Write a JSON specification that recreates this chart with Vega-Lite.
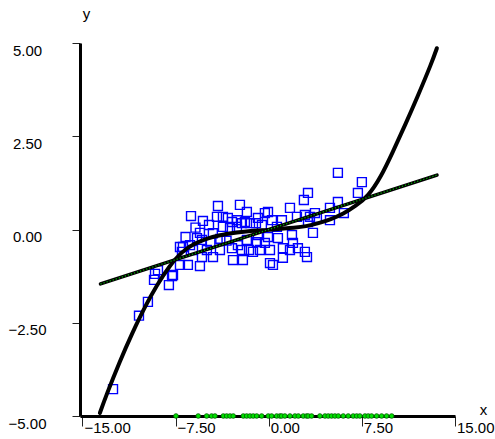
{
  "$schema": "https://vega.github.io/schema/vega-lite/v6.json",
  "width": 375,
  "height": 373,
  "autosize": "none",
  "padding": {"left": 80, "top": 43, "right": 40, "bottom": 23},
  "background": "white",
  "config": {"view": {"stroke": null}},
  "datasets": {
    "train": [
      {"x": -12.54, "y": -4.28}, {"x": -10.45, "y": -2.31}, {"x": -9.73, "y": -1.94}, {"x": -9.16, "y": -1.19},
      {"x": -8.92, "y": -1.09}, {"x": -9.24, "y": -1.35}, {"x": -8.04, "y": -1.49}, {"x": -7.79, "y": -1.25},
      {"x": -7.15, "y": -0.47}, {"x": -7.15, "y": -0.95}, {"x": -4.09, "y": 0.63}, {"x": -2.32, "y": 0.66},
      {"x": -1.76, "y": 0.47}, {"x": -6.26, "y": 0.36}, {"x": -5.30, "y": 0.23}, {"x": -4.81, "y": 0.12},
      {"x": -4.17, "y": 0.34}, {"x": -3.69, "y": 0.34}, {"x": -3.29, "y": 0.31}, {"x": -2.96, "y": 0.20},
      {"x": -2.56, "y": 0.25}, {"x": -2.16, "y": 0.17}, {"x": -1.92, "y": 0.20}, {"x": -1.51, "y": 0.17},
      {"x": -1.03, "y": 0.17}, {"x": -3.69, "y": 0.07}, {"x": -3.12, "y": 0.04}, {"x": -2.56, "y": 0.07},
      {"x": -5.54, "y": -0.09}, {"x": -5.78, "y": -0.23}, {"x": -6.34, "y": -0.42}, {"x": -5.38, "y": -0.28},
      {"x": -6.91, "y": -0.47}, {"x": -6.99, "y": -0.60}, {"x": -6.10, "y": -0.55}, {"x": -4.98, "y": -0.55},
      {"x": -3.93, "y": -0.55}, {"x": -2.96, "y": -0.50}, {"x": -2.48, "y": -0.42}, {"x": -2.16, "y": -0.55},
      {"x": -1.59, "y": -0.55}, {"x": -0.95, "y": -0.34}, {"x": -1.76, "y": -0.28}, {"x": -5.38, "y": -0.74},
      {"x": -6.51, "y": -0.95}, {"x": -5.54, "y": -0.98}, {"x": -1.27, "y": -0.60}, {"x": -2.88, "y": -0.82},
      {"x": -4.49, "y": -0.74}, {"x": -7.71, "y": -1.22}, {"x": 3.16, "y": 0.98}, {"x": 2.83, "y": 0.79},
      {"x": 1.71, "y": 0.58}, {"x": -0.06, "y": 0.47}, {"x": -0.31, "y": 0.44}, {"x": 2.27, "y": 0.34},
      {"x": 2.91, "y": 0.39}, {"x": 3.32, "y": 0.34}, {"x": -0.87, "y": 0.31}, {"x": 0.26, "y": 0.25},
      {"x": 1.06, "y": 0.25}, {"x": -0.55, "y": 0.12}, {"x": 0.66, "y": 0.07}, {"x": 5.57, "y": 0.74},
      {"x": 4.93, "y": 0.58}, {"x": 3.88, "y": 0.31}, {"x": 3.56, "y": -0.09}, {"x": 1.87, "y": -0.15},
      {"x": -0.87, "y": -0.15}, {"x": -0.06, "y": -0.20}, {"x": -0.31, "y": -0.36}, {"x": 0.74, "y": -0.23},
      {"x": -0.71, "y": -0.55}, {"x": 0.10, "y": -0.55}, {"x": 1.14, "y": -0.50}, {"x": 1.95, "y": -0.36},
      {"x": 1.71, "y": -0.55}, {"x": 2.35, "y": -0.50}, {"x": 2.91, "y": -0.60}, {"x": 3.08, "y": -0.74},
      {"x": 1.14, "y": -0.76}, {"x": 0.10, "y": -0.90}, {"x": 0.34, "y": -0.95}, {"x": 5.57, "y": 1.52},
      {"x": 7.50, "y": 1.27}, {"x": 7.18, "y": 0.98}, {"x": 6.05, "y": 0.44}, {"x": 3.72, "y": 0.44},
      {"x": 4.93, "y": 0.25}, {"x": -2.08, "y": -0.82}, {"x": 3.16, "y": 0.20},
      {"x": -4.50, "y": -0.10}, {"x": -3.90, "y": -0.25}, {"x": -4.70, "y": -0.35}, {"x": -3.40, "y": -0.30},
      {"x": -6.70, "y": -0.20}, {"x": -5.90, "y": 0.05}
    ],
    "g": [
      {"x": -13.6, "y": -4.92}, {"x": -13, "y": -4.38}, {"x": -12, "y": -3.55}, {"x": -11, "y": -2.79},
      {"x": -10, "y": -2.10}, {"x": -9, "y": -1.50}, {"x": -8, "y": -1.00}, {"x": -7, "y": -0.62},
      {"x": -6, "y": -0.39}, {"x": -5, "y": -0.25}, {"x": -4, "y": -0.16}, {"x": -3, "y": -0.10},
      {"x": -2, "y": -0.06}, {"x": -1, "y": -0.03}, {"x": 0, "y": -0.01}, {"x": 1, "y": 0.02},
      {"x": 2, "y": 0.05}, {"x": 3, "y": 0.09}, {"x": 4, "y": 0.17}, {"x": 5, "y": 0.28},
      {"x": 6, "y": 0.43}, {"x": 7, "y": 0.64}, {"x": 8, "y": 0.93}, {"x": 9, "y": 1.42},
      {"x": 10, "y": 2.09}, {"x": 11, "y": 2.82}, {"x": 12, "y": 3.58}, {"x": 13, "y": 4.38},
      {"x": 13.54, "y": 4.86}
    ],
    "est": [
      {"x": -13.55, "y": -1.46}, {"x": 13.55, "y": 1.46}
    ],
    "rug": [
      {"x": -7.47}, {"x": -5.68}, {"x": -5.0}, {"x": -4.6}, {"x": -4.33}, {"x": -3.66}, {"x": -3.39}, {"x": -3.12},
      {"x": -2.86}, {"x": -2.05}, {"x": -1.78}, {"x": -1.51}, {"x": -1.25}, {"x": -0.97}, {"x": -0.57}, {"x": -0.04},
      {"x": 0.23}, {"x": 0.64}, {"x": 0.9}, {"x": 1.04}, {"x": 1.3}, {"x": 1.71}, {"x": 2.11}, {"x": 2.38},
      {"x": 2.78}, {"x": 3.05}, {"x": 3.18}, {"x": 3.45}, {"x": 4.12}, {"x": 4.53}, {"x": 4.79}, {"x": 5.06},
      {"x": 5.33}, {"x": 5.6}, {"x": 6.0}, {"x": 6.4}, {"x": 6.8}, {"x": 7.08}, {"x": 7.34}, {"x": 7.75},
      {"x": 8.01}, {"x": 8.28}, {"x": 8.69}, {"x": 9.09}, {"x": 9.49}, {"x": 9.9}
    ]
  },
  "layer": [
    {
      "data": {"name": "train"},
      "mark": {"type": "point", "shape": "square", "filled": false, "stroke": "#0000ff", "strokeWidth": 1.4, "size": 80, "opacity": 1},
      "encoding": {
        "x": {
          "field": "x", "type": "quantitative",
          "scale": {"domain": [-15.2, 15], "nice": false, "zero": false},
          "axis": {
            "values": [-15, -7.5, 0, 7.5, 15], "format": ".2f", "grid": false,
            "domainColor": "black", "domainWidth": 3, "tickColor": "#222", "tickWidth": 1, "tickSize": 10,
            "labelAlign": "left", "labelBaseline": "top", "labelPadding": -6, "labelOffset": 1.5,
            "labelFont": "Liberation Sans", "labelFontSize": 15, "labelColor": "black",
            "labelFlush": false, "labelOverlap": false, "labelBound": false,
            "title": "x", "titleX": 403, "titleY": -2, "titleAlign": "center", "titleBaseline": "alphabetic",
            "titleFont": "Liberation Sans", "titleFontSize": 15, "titleFontWeight": "normal", "titleColor": "black"
          }
        },
        "y": {
          "field": "y", "type": "quantitative",
          "scale": {"domain": [-5, 5], "nice": false, "zero": false},
          "axis": {
            "values": [-5, -2.5, 0, 2.5, 5], "format": ".2f", "grid": false,
            "domainColor": "black", "domainWidth": 3, "tickColor": "#222", "tickWidth": 1, "tickSize": 8,
            "labelAlign": "center", "labelBaseline": "middle", "labelPadding": 45, "labelOffset": 7,
            "labelFont": "Liberation Sans", "labelFontSize": 15, "labelColor": "black",
            "labelFlush": false, "labelOverlap": false, "labelBound": false,
            "title": "y", "titleAngle": 0, "titleX": 6, "titleY": -25, "titleAlign": "center", "titleBaseline": "alphabetic",
            "titleFont": "Liberation Sans", "titleFontSize": 15, "titleFontWeight": "normal", "titleColor": "black"
          }
        }
      }
    },
    {
      "data": {"name": "g"},
      "mark": {"type": "line", "color": "black", "strokeWidth": 4, "interpolate": "natural", "strokeCap": "round"},
      "encoding": {
        "x": {"field": "x", "type": "quantitative"},
        "y": {"field": "y", "type": "quantitative"}
      }
    },
    {
      "data": {"name": "est"},
      "mark": {"type": "line", "color": "black", "strokeWidth": 3.5, "strokeCap": "round"},
      "encoding": {
        "x": {"field": "x", "type": "quantitative"},
        "y": {"field": "y", "type": "quantitative"}
      }
    },
    {
      "data": {"name": "est"},
      "mark": {"type": "line", "color": "#00b000", "strokeWidth": 1.3, "strokeDash": [1.2, 2]},
      "encoding": {
        "x": {"field": "x", "type": "quantitative"},
        "y": {"field": "y", "type": "quantitative"}
      }
    },
    {
      "data": {"name": "rug"},
      "mark": {"type": "point", "shape": "circle", "filled": true, "fill": "#00e000", "stroke": "#006000", "strokeWidth": 0.8, "size": 22, "opacity": 1},
      "encoding": {
        "x": {"field": "x", "type": "quantitative"},
        "y": {"datum": -5}
      }
    },
    {
      "mark": {"type": "text", "text": "training data", "align": "left", "baseline": "alphabetic", "font": "Liberation Sans", "fontSize": 15, "color": "black"},
      "encoding": {"x": {"datum": -5.94}, "y": {"datum": 1.33}}
    },
    {
      "mark": {"type": "text", "text": "g(x)", "align": "left", "baseline": "alphabetic", "font": "Liberation Sans", "fontSize": 15, "color": "black"},
      "encoding": {"x": {"datum": 8.2}, "y": {"datum": 2.94}}
    },
    {
      "mark": {"type": "text", "text": "EST g(x)", "align": "left", "baseline": "alphabetic", "font": "Liberation Sans", "fontSize": 15, "color": "black"},
      "encoding": {"x": {"datum": 11.63}, "y": {"datum": 0.34}}
    }
  ]
}
